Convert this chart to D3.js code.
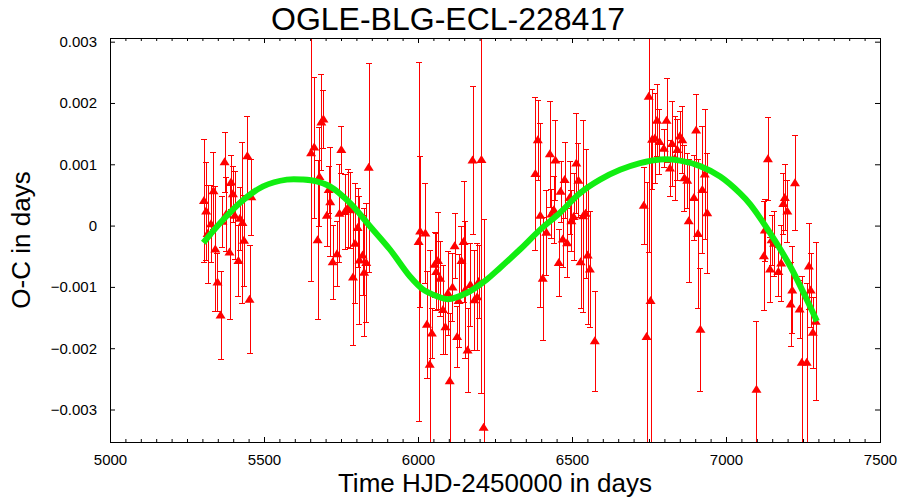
<!DOCTYPE html>
<html>
<head>
<meta charset="utf-8">
<script src="https://cdn.jsdelivr.net/npm/d3@7"></script>
<style>
  body { margin: 0; background: #fff; }
  svg { display: block; font-family: 'Liberation Sans', Arial, sans-serif; }
</style>
</head>
<body>
<svg id="chart"></svg>
<script>
// O-C measurements: time (HJD-2450000), O-C (days), error (days)
const times = [
  5305, 5312, 5317, 5328, 5336, 5342, 5349, 5359, 5365, 5372, 5377, 5388, 5393, 5399, 5405, 5417, 5422, 5430, 5435, 5446, 5453, 5459,
  5653, 5663, 5674, 5680, 5686, 5693, 5704, 5710, 5715, 5723, 5737, 5745, 5751, 5762, 5772, 5780, 5789, 5796, 5804, 5810, 5820, 5825, 5832, 5840,
  6002, 6007, 6024, 6029, 6038, 6045, 6054, 6059, 6065, 6072, 6081, 6089, 6097, 6103, 6112, 6119, 6127, 6132, 6141, 6148, 6154, 6161, 6170, 6177, 6183, 6192, 6197, 6206, 6213,
  6381, 6389, 6397, 6405, 6417, 6428, 6433, 6441, 6446, 6457, 6463, 6470, 6476, 6484, 6492, 6498, 6505, 6514, 6521, 6528, 6536, 6544, 6551, 6558, 6574,
  6733, 6742, 6749, 6755, 6760, 6769, 6776, 6784, 6798, 6807, 6818, 6825, 6834, 6842, 6850, 6858, 6865, 6874, 6879, 6896, 6903, 6909, 6917, 6923, 6931, 6939,
  7099, 7123, 7126, 7136, 7143, 7148, 7156, 7170, 7179, 7186, 7191, 7199, 7210, 7215, 7224, 7239, 7246, 7262, 7269, 7275, 7282, 7291
]
const ocValues = [
  0.00041, 0.00024, -0.00013, 0.00003, 0.00057, -0.00038, -0.00092, -0.00146, 0.00007, 0.00104, 0.00019, -0.00043, 0.00071, 0.00052, 0.00017, -0.00057, 0.00012, 0.00005, -0.00024, 0.00114, -0.00120, 0.00047,
  0.00119, 0.00128, -0.00023, 0.00080, 0.00169, 0.00174, 0.00017, 0.00059, 0.00039, -0.00059, -0.00046, 0.00020, 0.00124, 0.00023, 0.00029, 0.00026, -0.00084, -0.00029, -0.00003, -0.00056, -0.00048, -0.00076, -0.00060, 0.00095,
  -0.00026, -0.00009, -0.00012, -0.00161, -0.00226, -0.00175, -0.00063, -0.00075, -0.00057, -0.00086, -0.00137, -0.00165, -0.00110, -0.00253, -0.00100, -0.00033, -0.00181, -0.00122, -0.00057, -0.00026, -0.00104, -0.00203, -0.00096, 0.00107, -0.00121, -0.00116, -0.00091, 0.00108, -0.00329,
  0.00085, 0.00140, 0.00017, -0.00086, -0.00011, 0.00117, 0.00019, 0.00026, 0.00107, -0.00060, 0.00056, -0.00022, 0.00075, -0.00028, 0.00046, 0.00008, 0.00015, 0.00102, 0.00074, -0.00059, 0.00016, 0.00020, -0.00048, -0.00071, -0.00188,
  0.00033, -0.00181, 0.00211, -0.00122, 0.00141, 0.00143, 0.00172, 0.00137, 0.00126, 0.00172, 0.00094, 0.00134, 0.00110, 0.00124, 0.00146, 0.00140, 0.00078, 0.00074, 0.00008, 0.00046, 0.00156, -0.00013, -0.00169, 0.00059, 0.00084, 0.00021,
  -0.00267, -0.00049, -0.00007, 0.00109, -0.00071, -0.00023, -0.00029, -0.00075, -0.00061, 0.00036, 0.00046, 0.00024, -0.00128, -0.00105, 0.00070, -0.00136, -0.00223, -0.00223, -0.00066, -0.00105, -0.00174, -0.00156
]
const ocErrors = [
  0.00100, 0.00080, 0.00080, 0.00063, 0.00063, 0.00102, 0.00048, 0.00072, 0.00042, 0.00049, 0.00060, 0.00109, 0.00044, 0.00046, 0.00072, 0.00058, 0.00051, 0.00132, 0.00074, 0.00065, 0.00088, 0.00062,
  0.00209, 0.00115, 0.00130, 0.00081, 0.00079, 0.00047, 0.00050, 0.00039, 0.00089, 0.00060, 0.00053, 0.00080, 0.00039, 0.00061, 0.00064, 0.00062, 0.00110, 0.00098, 0.00065, 0.00104, 0.00065, 0.00104, 0.00097, 0.00170,
  0.00293, 0.00123, 0.00082, 0.00087, 0.00187, 0.00041, 0.00053, 0.00063, 0.00079, 0.00061, 0.00072, 0.00044, 0.00068, 0.00110, 0.00055, 0.00053, 0.00050, 0.00076, 0.00056, 0.00098, 0.00112, 0.00068, 0.00067, 0.00120, 0.00082, 0.00087, 0.00059, 0.00381, 0.00339,
  0.00124, 0.00065, 0.00150, 0.00100, 0.00069, 0.00086, 0.00040, 0.00055, 0.00065, 0.00055, 0.00050, 0.00046, 0.00062, 0.00056, 0.00059, 0.00050, 0.00071, 0.00081, 0.00060, 0.00076, 0.00157, 0.00105, 0.00112, 0.00095, 0.00082,
  0.00063, 0.00252, 0.00254, 0.00260, 0.00081, 0.00073, 0.00059, 0.00053, 0.00031, 0.00068, 0.00046, 0.00070, 0.00068, 0.00050, 0.00041, 0.00055, 0.00054, 0.00045, 0.00100, 0.00069, 0.00059, 0.00122, 0.00100, 0.00104, 0.00106, 0.00098,
  0.00112, 0.00089, 0.00050, 0.00068, 0.00053, 0.00041, 0.00053, 0.00040, 0.00062, 0.00050, 0.00054, 0.00051, 0.00068, 0.00071, 0.00077, 0.00048, 0.00140, 0.00130, 0.00070, 0.00061, 0.00058, 0.00129
]

// fitted curve
const fitTimes = [5303, 5368, 5433, 5497, 5574, 5627, 5671, 5714, 5779, 5844, 5909, 5974, 6016, 6061, 6097, 6158, 6223, 6266, 6331, 6396,
  6461, 6526, 6591, 6656, 6721, 6786, 6851, 6916, 6981, 7045, 7078, 7143, 7208, 7273, 7295]
const fitValues = [-0.00028, 0.00010, 0.00042, 0.00064, 0.00075, 0.00075, 0.00072, 0.00064, 0.00037, -0.00001, -0.00039, -0.00083, -0.00104, -0.00115, -0.00120, -0.00110, -0.00088, -0.00069, -0.00039, -0.00007,
  0.00021, 0.00053, 0.00075, 0.00091, 0.00102, 0.00108, 0.00106, 0.00097, 0.00080, 0.00053, 0.00035, -0.00012, -0.00066, -0.00132, -0.00156]

const xTicks = [5000, 5500, 6000, 6500, 7000, 7500]
const yTicks = [-0.003, -0.002, -0.001, 0, 0.001, 0.002, 0.003]

const width = 900
const height = 500
const margin = { top: 38, right: 20, bottom: 58, left: 110 }
const plotW = width - margin.left - margin.right
const plotH = height - margin.top - margin.bottom

const svg = d3.select('#chart')
  .attr('width', width)
  .attr('height', height)

const x = d3.scaleLinear().domain([5000, 7500]).range([0, plotW])
const y = d3.scaleLinear().domain([-0.00353, 0.00306]).range([plotH, 0])

const defs = svg.append('defs')
defs.append('clipPath').attr('id', 'plotClip')
  .append('rect').attr('width', plotW).attr('height', plotH)

const g = svg.append('g').attr('transform', `translate(${margin.left},${margin.top})`)

// axes with inward ticks, mirrored on top/right
const fmtY = d => d === 0 ? '0' : d3.format('.3f')(d)
const minorX = d3.range(5000, 7501, 50).filter(v => v % 500 !== 0)

const styleAxis = sel => {
  sel.select('.domain').remove()
  sel.selectAll('line').attr('stroke', '#000')
  sel.selectAll('text').attr('font-size', '15px').attr('fill', '#000')
}

g.append('g').attr('transform', `translate(0,${plotH})`)
  .call(d3.axisBottom(x).tickValues(xTicks).tickSize(-5).tickPadding(12).tickFormat(d3.format('d')))
  .call(styleAxis)
g.append('g').attr('transform', `translate(0,${plotH})`)
  .call(d3.axisBottom(x).tickValues(minorX).tickSize(-3).tickFormat(''))
  .call(styleAxis)
g.append('g')
  .call(d3.axisTop(x).tickValues(xTicks).tickSize(-5).tickFormat(''))
  .call(styleAxis)
g.append('g')
  .call(d3.axisTop(x).tickValues(minorX).tickSize(-3).tickFormat(''))
  .call(styleAxis)
g.append('g')
  .call(d3.axisLeft(y).tickValues(yTicks).tickSize(-5).tickPadding(13).tickFormat(fmtY))
  .call(styleAxis)
g.append('g').attr('transform', `translate(${plotW},0)`)
  .call(d3.axisRight(y).tickValues(yTicks).tickSize(-5).tickFormat(''))
  .call(styleAxis)

// data layer
const data = times.map((t, i) => ({ t: t, v: ocValues[i], e: ocErrors[i] }))
const plot = g.append('g').attr('clip-path', 'url(#plotClip)')

const bars = plot.append('g')
  .attr('stroke', '#ff0000')
  .attr('stroke-width', 1)
  .attr('shape-rendering', 'crispEdges')
  .selectAll('g')
  .data(data)
  .enter().append('g')

bars.append('line')
  .attr('x1', d => Math.round(x(d.t)) + 0.5).attr('x2', d => Math.round(x(d.t)) + 0.5)
  .attr('y1', d => y(d.v + d.e)).attr('y2', d => y(d.v - d.e))
bars.append('line')
  .attr('x1', d => x(d.t) - 3).attr('x2', d => x(d.t) + 3)
  .attr('y1', d => Math.round(y(d.v + d.e)) + 0.5).attr('y2', d => Math.round(y(d.v + d.e)) + 0.5)
bars.append('line')
  .attr('x1', d => x(d.t) - 3).attr('x2', d => x(d.t) + 3)
  .attr('y1', d => Math.round(y(d.v - d.e)) + 0.5).attr('y2', d => Math.round(y(d.v - d.e)) + 0.5)

plot.append('g')
  .selectAll('path')
  .data(data)
  .enter().append('path')
  .attr('d', 'M0,-4.5L5,3.5L-5,3.5Z')
  .attr('transform', d => `translate(${x(d.t)},${y(d.v)})`)
  .attr('fill', '#ff0000')

// fit line drawn on top
const fit = fitTimes.map((t, i) => [t, fitValues[i]])
plot.append('path')
  .datum(fit)
  .attr('fill', 'none')
  .attr('stroke', '#11ee11')
  .attr('stroke-width', 6)
  .attr('d', d3.line().x(d => x(d[0])).y(d => y(d[1])).curve(d3.curveCatmullRom))

// frame
g.append('rect')
  .attr('width', plotW).attr('height', plotH)
  .attr('fill', 'none').attr('stroke', '#000').attr('stroke-width', 1)
  .attr('shape-rendering', 'crispEdges')

// labels
svg.append('text')
  .attr('x', 448).attr('y', 30)
  .attr('text-anchor', 'middle')
  .attr('font-size', '32px')
  .text('OGLE-BLG-ECL-228417')

svg.append('text')
  .attr('x', margin.left + plotW / 2).attr('y', 492)
  .attr('text-anchor', 'middle')
  .attr('font-size', '26px')
  .text('Time HJD-2450000 in days')

svg.append('text')
  .attr('transform', `translate(30,${margin.top + plotH / 2}) rotate(-90)`)
  .attr('text-anchor', 'middle')
  .attr('font-size', '26px')
  .text('O-C in days')
</script>
</body>
</html>
